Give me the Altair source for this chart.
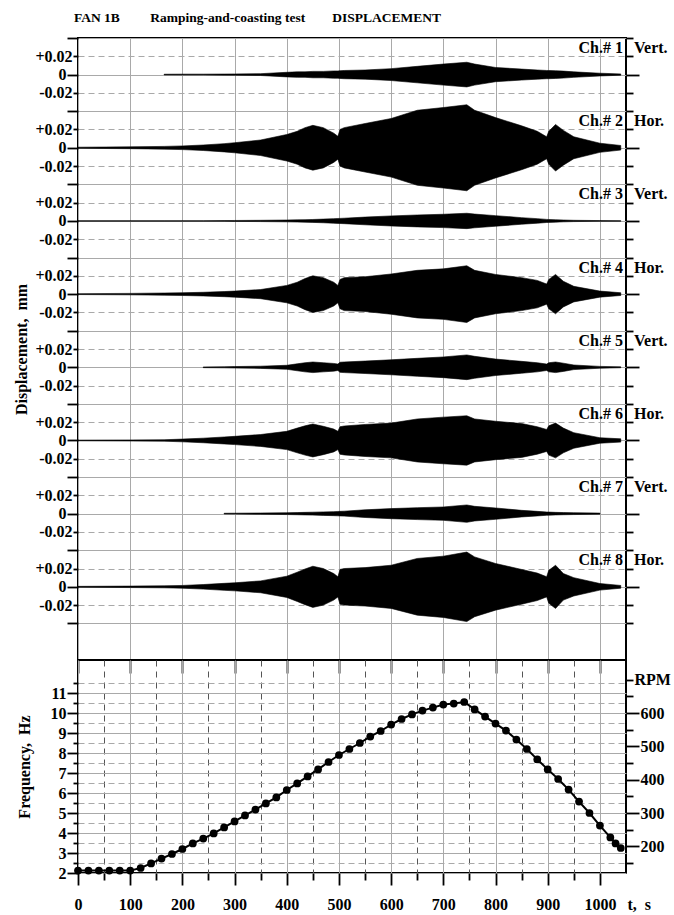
import json
import altair as alt
import pandas as pd

FONT = "Liberation Serif"
NB = "\u00a0"

# ---------------- data ----------------
title_parts = ["FAN 1B", "Ramping-and-coasting test", "DISPLACEMENT"]
channel_names = ["Ch.# 1", "Ch.# 2", "Ch.# 3", "Ch.# 4", "Ch.# 5", "Ch.# 6", "Ch.# 7", "Ch.# 8"]
channel_dirs = ["Vert.", "Hor.", "Vert.", "Hor.", "Vert.", "Hor.", "Vert.", "Hor."]
strip_tick_labels = ["+0.02", "0", "-0.02"]
rpm_label = "RPM"
y_title_top = "Displacement," + NB * 2 + "mm"
y_title_bot = "Frequency," + NB * 2 + "Hz"
x_title = "t," + NB * 2 + "s"

# envelope time points (s)
t_env = [0, 100, 165, 200, 240, 280, 300, 350, 400, 420, 435, 450, 470, 490, 498, 502, 510,
         550, 600, 650, 700, 745, 760, 800, 850, 880, 898, 902, 915, 930, 950, 1000, 1040]

# displacement envelope amplitude (mm) per channel, None = no signal recorded
amp_ch1 = [None, None, 0.0004, 0.0005, 0.0005, 0.0006, 0.0007, 0.001, 0.0025, 0.003, 0.003,
           0.0035, 0.0035, 0.004, 0.004, 0.0042, 0.0045, 0.005, 0.0065, 0.009, 0.0115, 0.0135,
           0.0115, 0.0078, 0.006, 0.005, 0.0045, 0.0045, 0.0042, 0.0038, 0.003, 0.0015, 0.0007]
amp_ch2 = [0.0006, 0.001, 0.0015, 0.002, 0.003, 0.0045, 0.0055, 0.0085, 0.0145, 0.018, 0.022,
           0.0245, 0.022, 0.016, 0.0125, 0.02, 0.022, 0.0265, 0.032, 0.041, 0.044, 0.047,
           0.041, 0.033, 0.024, 0.018, 0.012, 0.018, 0.0255, 0.019, 0.012, 0.005, 0.0025]
amp_ch3 = [0.0003, 0.0003, 0.0003, 0.0003, 0.0003, 0.0004, 0.0005, 0.0007, 0.001, 0.0012, 0.0014,
           0.0016, 0.002, 0.0025, 0.0027, 0.0028, 0.003, 0.0042, 0.0055, 0.0065, 0.0073, 0.0084,
           0.0075, 0.0058, 0.0036, 0.0025, 0.0017, 0.0016, 0.0013, 0.001, 0.0007, 0.0004, 0.0003]
amp_ch4 = [0.0005, 0.0008, 0.0012, 0.0015, 0.002, 0.0028, 0.0033, 0.005, 0.0095, 0.013, 0.017,
           0.020, 0.018, 0.013, 0.0095, 0.016, 0.018, 0.019, 0.022, 0.026, 0.0276, 0.031,
           0.026, 0.0215, 0.018, 0.015, 0.011, 0.016, 0.0215, 0.014, 0.0085, 0.0033, 0.0015]
amp_ch5 = [None, None, None, None, 0.0004, 0.0006, 0.0008, 0.0012, 0.0022, 0.0038, 0.005,
           0.0058, 0.005, 0.0042, 0.0035, 0.0055, 0.0058, 0.0068, 0.0082, 0.0098, 0.0113, 0.0135,
           0.012, 0.009, 0.0065, 0.005, 0.0035, 0.005, 0.0058, 0.0045, 0.0025, 0.001, 0.0005]
amp_ch6 = [0.0004, 0.0006, 0.0008, 0.0015, 0.0025, 0.0038, 0.0045, 0.0065, 0.010, 0.0135, 0.016,
           0.018, 0.0155, 0.0125, 0.010, 0.015, 0.0158, 0.0175, 0.019, 0.0235, 0.0255, 0.027,
           0.0235, 0.021, 0.0185, 0.015, 0.012, 0.016, 0.019, 0.0135, 0.0085, 0.003, 0.0018]
amp_ch7 = [None, None, None, None, None, 0.0004, 0.0005, 0.0007, 0.001, 0.0012, 0.0014,
           0.0016, 0.0019, 0.0022, 0.0024, 0.0025, 0.0027, 0.0042, 0.0055, 0.0065, 0.0073, 0.0095,
           0.008, 0.0062, 0.0036, 0.0025, 0.0018, 0.0017, 0.0014, 0.0012, 0.001, 0.0006, None]
amp_ch8 = [0.0005, 0.0008, 0.0011, 0.0015, 0.0025, 0.0038, 0.0044, 0.0065, 0.0116, 0.016, 0.0195,
           0.0225, 0.020, 0.0145, 0.011, 0.019, 0.020, 0.021, 0.0236, 0.031, 0.0335, 0.038,
           0.0327, 0.0255, 0.019, 0.015, 0.011, 0.018, 0.0236, 0.0145, 0.010, 0.0036, 0.0015]

# rotation frequency
t_freq = [0, 20, 40, 60, 80, 100, 120, 140, 160, 180, 200, 220, 240, 260, 280, 300, 320, 340,
          360, 380, 400, 420, 440, 460, 480, 500, 520, 540, 560, 580, 600, 620, 640, 660, 680,
          700, 720, 740, 760, 780, 800, 820, 840, 860, 880, 900, 920, 940, 960, 980, 1000,
          1020, 1030, 1040]
freq_hz = [2.12, 2.12, 2.12, 2.12, 2.12, 2.12, 2.25, 2.48, 2.72, 2.95, 3.2, 3.48, 3.72, 3.98,
           4.28, 4.58, 4.88, 5.17, 5.48, 5.78, 6.15, 6.48, 6.83, 7.18, 7.55, 7.9, 8.2, 8.5,
           8.82, 9.1, 9.42, 9.7, 9.93, 10.12, 10.27, 10.42, 10.47, 10.55, 10.18, 9.82, 9.47,
           9.12, 8.67, 8.2, 7.68, 7.18, 6.7, 6.17, 5.57, 5.0, 4.37, 3.78, 3.48, 3.25]

x_ticks = list(range(0, 1001, 50))
hz_ticks = [2, 2.5, 3, 3.5, 4, 4.5, 5, 5.5, 6, 6.5, 7, 7.5, 8, 8.5, 9, 9.5, 10, 10.5, 11, 11.5]
rpm_ticks = [150, 200, 250, 300, 350, 400, 450, 500, 550, 600, 650, 700]

# ---------------- layout constants ----------------
X_MAX = 1050
STRIP = 0.08
Y_TOP = 0.04
Y_BOT = -0.64
HZ_MIN, HZ_MAX = 2.0, 12.65
W = 548
H_TOP = 622
H_BOT = 213

y_ticks_top = [round(Y_TOP - 0.02 * i, 2) for i in range(33)]

amps = [amp_ch1, amp_ch2, amp_ch3, amp_ch4, amp_ch5, amp_ch6, amp_ch7, amp_ch8]
rows = []
for k, (name, amp) in enumerate(zip(channel_names, amps)):
    center = -STRIP * k
    for t, a in zip(t_env, amp):
        if a is None:
            continue
        rows.append({"t": t, "ch": name, "hi": center + a, "lo": center - a})
env = pd.DataFrame(rows)

lab_df = pd.DataFrame({
    "name": channel_names,
    "dir": channel_dirs,
    "ytop": [-STRIP * k + STRIP / 2 for k in range(len(channel_names))],
})

freq_df = pd.DataFrame({"t": t_freq, "hz": freq_hz})
freq_df["rpm"] = freq_df["hz"] * 60


def cond(test, a, b):
    return {"condition": {"test": test, "value": a}, "value": b}


GRID_SOLID = "#a9a9a9"
GRID_DASH_V = "#555555"

lab = dict(labelFont=FONT, labelFontSize=16, labelFontWeight="bold", labelColor="black",
           labelOverlap=False, labelFlush=False, labelBound=False)
ttl = dict(titleFont=FONT, titleFontSize=16, titleFontWeight="bold", titleColor="black")
tk = dict(tickColor="black", tickWidth=1.8, domain=False)

X100 = "datum.value % 100 === 0"
M = "(((round(datum.value * 50) % 4) + 4) % 4)"
label_map = [strip_tick_labels[1], strip_tick_labels[0], "", strip_tick_labels[2]]
top_label_expr = json.dumps(label_map) + "[" + M + "]"
MAJ = M + " % 2 === 0"
ZERO = M + " === 0"

xscale = alt.Scale(domain=[0, X_MAX], nice=False, zero=False)
yscale_top = alt.Scale(domain=[Y_BOT, Y_TOP], nice=False, zero=False)
hz_scale = alt.Scale(domain=[HZ_MIN, HZ_MAX], nice=False, zero=False)
rpm_scale = alt.Scale(domain=[HZ_MIN * 60, HZ_MAX * 60], nice=False, zero=False)

top_x_axis = alt.Axis(orient="bottom", values=x_ticks, labels=False, title=None,
                      tickSize=cond(X100, 13, 7), grid=True,
                      gridColor=cond(X100, GRID_SOLID, GRID_DASH_V),
                      gridDash=cond(X100, [], [6, 5]), gridWidth=1, **tk)
top_y_axis = alt.Axis(orient="left", values=y_ticks_top, labelExpr=top_label_expr,
                      labelPadding=1, tickSize=cond(MAJ, 11, 5), grid=True,
                      gridColor=GRID_SOLID, gridDash=cond(MAJ, [], [6, 4]), gridWidth=1,
                      title=y_title_top, titlePadding=5, **lab, **ttl, **tk)
top_r_axis = alt.Axis(orient="right", values=y_ticks_top, labels=False, title=None,
                      grid=False, tickSize=cond(ZERO, 13, 7), **tk)

area = alt.Chart(env).mark_area(color="black", stroke="black", strokeWidth=0.6).encode(
    x=alt.X("t:Q", scale=xscale, axis=top_x_axis),
    y=alt.Y("hi:Q", scale=yscale_top, axis=top_y_axis),
    y2="lo:Q",
    detail="ch:N",
)
ch_text = alt.Chart(lab_df).mark_text(
    font=FONT, fontSize=16, fontWeight="bold", align="right", baseline="alphabetic",
    dx=-3, dy=15, color="black"
).encode(
    x=alt.datum(X_MAX),
    y=alt.Y("ytop:Q", scale=yscale_top, axis=None),
    text="name:N",
)
dir_text = alt.Chart(lab_df).mark_text(
    font=FONT, fontSize=16, fontWeight="bold", align="left", baseline="alphabetic",
    dx=8, dy=15, color="black"
).encode(
    x=alt.datum(X_MAX),
    y=alt.Y("ytop:Q", scale=yscale_top, axis=top_r_axis),
    text="dir:N",
)

title_text = title_parts[0] + NB * 9 + title_parts[1] + NB * 8 + title_parts[2]
top = alt.layer(area, ch_text, dir_text).resolve_scale(y="independent").properties(
    width=W, height=H_TOP,
    title=alt.TitleParams(title_text, anchor="start", frame="group", font=FONT,
                          fontSize=13.5, fontWeight="bold", color="black", offset=6, dx=-4),
)

bot_x_axis = alt.Axis(orient="bottom", values=x_ticks,
                      labelExpr="datum.value % 100 === 0 ? format(datum.value, 'd') : ''",
                      labelPadding=11, tickSize=cond(X100, 12, 7), grid=True,
                      gridColor=cond(X100, GRID_SOLID, GRID_DASH_V),
                      gridDash=cond(X100, [], [6, 5]), gridWidth=1,
                      title=x_title, titleX=549, titleY=36, titleAngle=0, titleAlign="left",
                      titleBaseline="alphabetic", **lab, **ttl, **tk)
HZ_INT = "datum.value % 1 === 0"
hz_axis = alt.Axis(orient="left", values=hz_ticks,
                   labelExpr=f"{HZ_INT} ? format(datum.value, 'd') : ''",
                   labelPadding=1, tickSize=cond(HZ_INT, 11, 5), grid=True,
                   gridColor=GRID_SOLID, gridDash=cond(HZ_INT, [], [6, 4]), gridWidth=1,
                   title=y_title_bot, titlePadding=18, **lab, **ttl, **tk)
RPM_MAJ = "datum.value % 100 === 0 && datum.value !== 700"
rpm_axis = alt.Axis(orient="right", values=rpm_ticks,
                    labelExpr=f"datum.value === 700 ? '{rpm_label}' : (datum.value % 100 === 0 ? format(datum.value, 'd') : '')",
                    labelPadding=1, tickSize=cond(RPM_MAJ, 13, 7), grid=False, title=None,
                    **lab, **tk)

line = alt.Chart(freq_df).mark_line(color="black", strokeWidth=2).encode(
    x=alt.X("t:Q", scale=xscale, axis=bot_x_axis),
    y=alt.Y("hz:Q", scale=hz_scale, axis=hz_axis),
)
pts = alt.Chart(freq_df).mark_circle(color="black", size=60, opacity=1).encode(
    x=alt.X("t:Q", scale=xscale, axis=bot_x_axis),
    y=alt.Y("hz:Q", scale=hz_scale, axis=None),
)
rpm_layer = alt.Chart(freq_df).mark_point(opacity=0).encode(
    x=alt.X("t:Q", scale=xscale, axis=bot_x_axis),
    y=alt.Y("rpm:Q", scale=rpm_scale, axis=rpm_axis),
)
bottom = alt.layer(line, pts, rpm_layer).resolve_scale(y="independent").properties(
    width=W, height=H_BOT)

chart = alt.vconcat(top, bottom, spacing=0, bounds="flush").properties(
    padding={"left": 12, "top": 9, "right": 2, "bottom": 2},
    background="white",
).configure_view(stroke="black", strokeWidth=2)

chart.save("out.html", embed_options={"renderer": "svg", "actions": False})
